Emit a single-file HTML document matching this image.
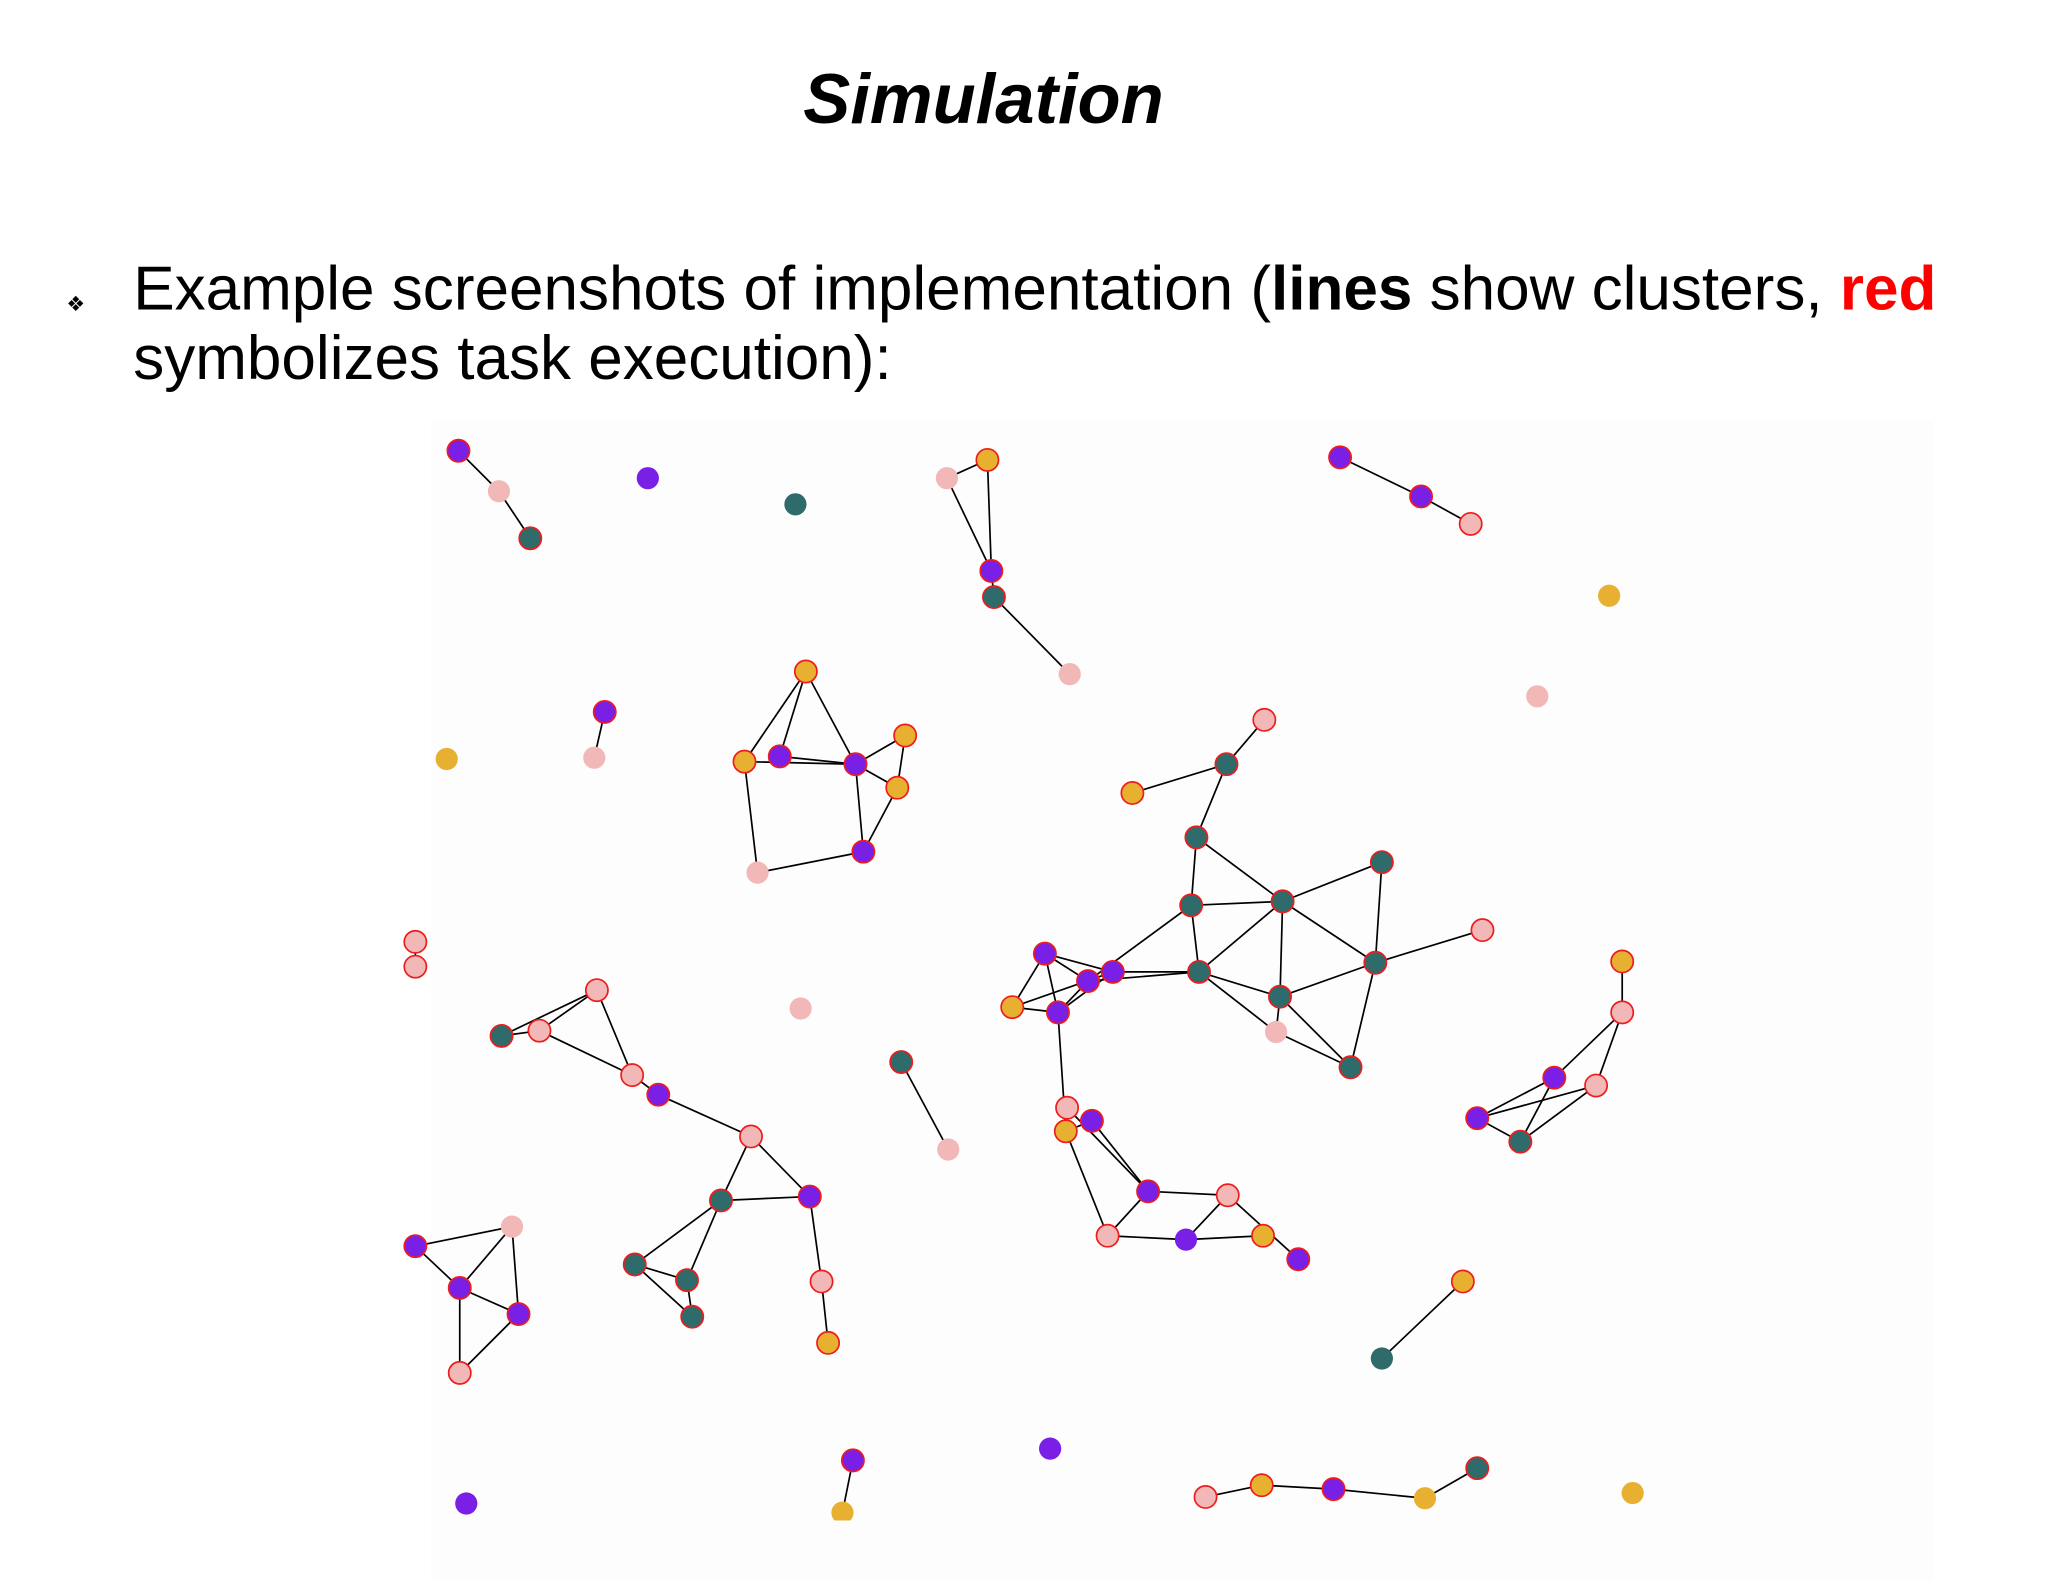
<!DOCTYPE html>
<html><head><meta charset="utf-8"><style>
html,body{margin:0;padding:0;background:#fff;}
svg{display:block;}
</style></head><body>
<svg width="2048" height="1582" viewBox="0 0 1568 1211" xmlns="http://www.w3.org/2000/svg">
<rect x="0" y="0" width="1568" height="1211" fill="#fff"/>
<rect x="330" y="322" width="1150" height="889" fill="#fdfdfd"/>
<text x="753" y="94" text-anchor="middle" font-family="Liberation Sans, sans-serif" font-size="54" font-weight="bold" font-style="italic" fill="#000">Simulation</text>
<text x="58" y="238" text-anchor="middle" font-family="DejaVu Sans, sans-serif" font-size="16" fill="#000">❖</text>
<text x="102" y="237" font-family="Liberation Sans, sans-serif" font-size="47.5" fill="#000">Example screenshots of implementation (<tspan font-weight="bold">lines</tspan> show clusters, <tspan font-weight="bold" fill="#ff0000">red</tspan></text>
<text x="102" y="290" font-family="Liberation Sans, sans-serif" font-size="47.5" fill="#000">symbolizes task execution):</text>

<g stroke="#000" stroke-width="1.3">
<line x1="351" y1="345" x2="382" y2="376"/><line x1="382" y1="376" x2="406" y2="412"/>
<line x1="725" y1="366" x2="756" y2="352"/><line x1="756" y1="352" x2="759" y2="437"/><line x1="725" y1="366" x2="759" y2="437"/><line x1="759" y1="437" x2="761" y2="457"/><line x1="761" y1="457" x2="819" y2="516"/>
<line x1="1026" y1="350" x2="1088" y2="380"/><line x1="1088" y1="380" x2="1126" y2="401"/>
<line x1="463" y1="545" x2="455" y2="580"/>
<line x1="617" y1="514" x2="570" y2="583"/><line x1="617" y1="514" x2="655" y2="585"/><line x1="617" y1="514" x2="597" y2="579"/><line x1="570" y1="583" x2="655" y2="585"/><line x1="597" y1="579" x2="655" y2="585"/><line x1="655" y1="585" x2="693" y2="563"/><line x1="693" y1="563" x2="687" y2="603"/><line x1="655" y1="585" x2="661" y2="652"/><line x1="687" y1="603" x2="661" y2="652"/><line x1="570" y1="583" x2="580" y2="668"/><line x1="580" y1="668" x2="661" y2="652"/><line x1="655" y1="585" x2="687" y2="603"/>
<line x1="968" y1="551" x2="939" y2="585"/><line x1="939" y1="585" x2="867" y2="607"/><line x1="939" y1="585" x2="916" y2="641"/><line x1="916" y1="641" x2="912" y2="693"/><line x1="916" y1="641" x2="982" y2="690"/><line x1="912" y1="693" x2="982" y2="690"/><line x1="912" y1="693" x2="918" y2="744"/><line x1="982" y1="690" x2="1058" y2="660"/><line x1="982" y1="690" x2="1053" y2="737"/><line x1="982" y1="690" x2="918" y2="744"/><line x1="982" y1="690" x2="980" y2="763"/><line x1="1058" y1="660" x2="1053" y2="737"/><line x1="1135" y1="712" x2="1053" y2="737"/><line x1="1053" y1="737" x2="980" y2="763"/><line x1="1053" y1="737" x2="1034" y2="817"/><line x1="918" y1="744" x2="980" y2="763"/><line x1="918" y1="744" x2="977" y2="790"/><line x1="980" y1="763" x2="977" y2="790"/><line x1="977" y1="790" x2="1034" y2="817"/><line x1="980" y1="763" x2="1034" y2="817"/>
<line x1="912" y1="693" x2="833" y2="751"/>
<line x1="800" y1="730" x2="852" y2="744"/><line x1="800" y1="730" x2="833" y2="751"/><line x1="800" y1="730" x2="775" y2="771"/><line x1="800" y1="730" x2="810" y2="775"/><line x1="775" y1="771" x2="852" y2="744"/><line x1="775" y1="771" x2="810" y2="775"/><line x1="810" y1="775" x2="833" y2="751"/><line x1="810" y1="775" x2="852" y2="744"/><line x1="852" y1="744" x2="918" y2="744"/><line x1="833" y1="751" x2="918" y2="744"/><line x1="810" y1="775" x2="816" y2="866"/>
<line x1="817" y1="848" x2="879" y2="912"/><line x1="816" y1="866" x2="836" y2="858"/><line x1="836" y1="858" x2="879" y2="912"/><line x1="816" y1="866" x2="848" y2="946"/><line x1="879" y1="912" x2="940" y2="915"/><line x1="879" y1="912" x2="848" y2="946"/><line x1="848" y1="946" x2="908" y2="949"/><line x1="908" y1="949" x2="967" y2="946"/><line x1="940" y1="915" x2="908" y2="949"/><line x1="940" y1="915" x2="994" y2="964"/>
<line x1="690" y1="813" x2="726" y2="880"/>
<line x1="318" y1="721" x2="318" y2="740"/>
<line x1="384" y1="793" x2="457" y2="758"/><line x1="384" y1="793" x2="413" y2="789"/><line x1="413" y1="789" x2="457" y2="758"/><line x1="413" y1="789" x2="484" y2="823"/><line x1="457" y1="758" x2="484" y2="823"/><line x1="484" y1="823" x2="504" y2="838"/><line x1="504" y1="838" x2="575" y2="870"/><line x1="575" y1="870" x2="552" y2="919"/><line x1="575" y1="870" x2="620" y2="916"/><line x1="552" y1="919" x2="620" y2="916"/><line x1="552" y1="919" x2="486" y2="968"/><line x1="552" y1="919" x2="526" y2="980"/><line x1="486" y1="968" x2="526" y2="980"/><line x1="486" y1="968" x2="530" y2="1008"/><line x1="526" y1="980" x2="530" y2="1008"/><line x1="620" y1="916" x2="629" y2="981"/><line x1="629" y1="981" x2="634" y2="1028"/>
<line x1="318" y1="954" x2="392" y2="939"/><line x1="318" y1="954" x2="352" y2="986"/><line x1="392" y1="939" x2="352" y2="986"/><line x1="392" y1="939" x2="397" y2="1006"/><line x1="352" y1="986" x2="397" y2="1006"/><line x1="352" y1="986" x2="352" y2="1051"/><line x1="397" y1="1006" x2="352" y2="1051"/>
<line x1="1242" y1="736" x2="1242" y2="775"/><line x1="1242" y1="775" x2="1190" y2="825"/><line x1="1242" y1="775" x2="1222" y2="831"/><line x1="1190" y1="825" x2="1131" y2="856"/><line x1="1190" y1="825" x2="1164" y2="874"/><line x1="1222" y1="831" x2="1131" y2="856"/><line x1="1222" y1="831" x2="1164" y2="874"/><line x1="1131" y1="856" x2="1164" y2="874"/>
<line x1="1120" y1="981" x2="1058" y2="1040"/>
<line x1="653" y1="1118" x2="645" y2="1158"/>
<line x1="923" y1="1146" x2="966" y2="1137"/><line x1="966" y1="1137" x2="1021" y2="1140"/><line x1="1021" y1="1140" x2="1091" y2="1147"/><line x1="1091" y1="1147" x2="1131" y2="1124"/>
</g>

<g stroke="#ee1c1c" stroke-width="1.3">
<circle cx="351" cy="345" r="8.5" fill="#7a1fe6"/>
<circle cx="406" cy="412" r="8.5" fill="#2f6b6b"/>
<circle cx="756" cy="352" r="8.5" fill="#e8b030"/>
<circle cx="759" cy="437" r="8.5" fill="#7a1fe6"/>
<circle cx="761" cy="457" r="8.5" fill="#2f6b6b"/>
<circle cx="1026" cy="350" r="8.5" fill="#7a1fe6"/>
<circle cx="1088" cy="380" r="8.5" fill="#7a1fe6"/>
<circle cx="1126" cy="401" r="8.5" fill="#f2b8b8"/>
<circle cx="463" cy="545" r="8.5" fill="#7a1fe6"/>
<circle cx="617" cy="514" r="8.5" fill="#e8b030"/>
<circle cx="570" cy="583" r="8.5" fill="#e8b030"/>
<circle cx="597" cy="579" r="8.5" fill="#7a1fe6"/>
<circle cx="655" cy="585" r="8.5" fill="#7a1fe6"/>
<circle cx="693" cy="563" r="8.5" fill="#e8b030"/>
<circle cx="687" cy="603" r="8.5" fill="#e8b030"/>
<circle cx="661" cy="652" r="8.5" fill="#7a1fe6"/>
<circle cx="968" cy="551" r="8.5" fill="#f2b8b8"/>
<circle cx="939" cy="585" r="8.5" fill="#2f6b6b"/>
<circle cx="867" cy="607" r="8.5" fill="#e8b030"/>
<circle cx="916" cy="641" r="8.5" fill="#2f6b6b"/>
<circle cx="912" cy="693" r="8.5" fill="#2f6b6b"/>
<circle cx="982" cy="690" r="8.5" fill="#2f6b6b"/>
<circle cx="1058" cy="660" r="8.5" fill="#2f6b6b"/>
<circle cx="1135" cy="712" r="8.5" fill="#f2b8b8"/>
<circle cx="1053" cy="737" r="8.5" fill="#2f6b6b"/>
<circle cx="918" cy="744" r="8.5" fill="#2f6b6b"/>
<circle cx="980" cy="763" r="8.5" fill="#2f6b6b"/>
<circle cx="1034" cy="817" r="8.5" fill="#2f6b6b"/>
<circle cx="800" cy="730" r="8.5" fill="#7a1fe6"/>
<circle cx="833" cy="751" r="8.5" fill="#7a1fe6"/>
<circle cx="852" cy="744" r="8.5" fill="#7a1fe6"/>
<circle cx="775" cy="771" r="8.5" fill="#e8b030"/>
<circle cx="810" cy="775" r="8.5" fill="#7a1fe6"/>
<circle cx="817" cy="848" r="8.5" fill="#f2b8b8"/>
<circle cx="836" cy="858" r="8.5" fill="#7a1fe6"/>
<circle cx="816" cy="866" r="8.5" fill="#e8b030"/>
<circle cx="879" cy="912" r="8.5" fill="#7a1fe6"/>
<circle cx="940" cy="915" r="8.5" fill="#f2b8b8"/>
<circle cx="848" cy="946" r="8.5" fill="#f2b8b8"/>
<circle cx="967" cy="946" r="8.5" fill="#e8b030"/>
<circle cx="994" cy="964" r="8.5" fill="#7a1fe6"/>
<circle cx="690" cy="813" r="8.5" fill="#2f6b6b"/>
<circle cx="318" cy="721" r="8.5" fill="#f2b8b8"/>
<circle cx="318" cy="740" r="8.5" fill="#f2b8b8"/>
<circle cx="384" cy="793" r="8.5" fill="#2f6b6b"/>
<circle cx="413" cy="789" r="8.5" fill="#f2b8b8"/>
<circle cx="457" cy="758" r="8.5" fill="#f2b8b8"/>
<circle cx="484" cy="823" r="8.5" fill="#f2b8b8"/>
<circle cx="504" cy="838" r="8.5" fill="#7a1fe6"/>
<circle cx="575" cy="870" r="8.5" fill="#f2b8b8"/>
<circle cx="552" cy="919" r="8.5" fill="#2f6b6b"/>
<circle cx="620" cy="916" r="8.5" fill="#7a1fe6"/>
<circle cx="486" cy="968" r="8.5" fill="#2f6b6b"/>
<circle cx="526" cy="980" r="8.5" fill="#2f6b6b"/>
<circle cx="530" cy="1008" r="8.5" fill="#2f6b6b"/>
<circle cx="629" cy="981" r="8.5" fill="#f2b8b8"/>
<circle cx="634" cy="1028" r="8.5" fill="#e8b030"/>
<circle cx="318" cy="954" r="8.5" fill="#7a1fe6"/>
<circle cx="352" cy="986" r="8.5" fill="#7a1fe6"/>
<circle cx="397" cy="1006" r="8.5" fill="#7a1fe6"/>
<circle cx="352" cy="1051" r="8.5" fill="#f2b8b8"/>
<circle cx="1242" cy="736" r="8.5" fill="#e8b030"/>
<circle cx="1242" cy="775" r="8.5" fill="#f2b8b8"/>
<circle cx="1190" cy="825" r="8.5" fill="#7a1fe6"/>
<circle cx="1222" cy="831" r="8.5" fill="#f2b8b8"/>
<circle cx="1131" cy="856" r="8.5" fill="#7a1fe6"/>
<circle cx="1164" cy="874" r="8.5" fill="#2f6b6b"/>
<circle cx="1120" cy="981" r="8.5" fill="#e8b030"/>
<circle cx="653" cy="1118" r="8.5" fill="#7a1fe6"/>
<circle cx="923" cy="1146" r="8.5" fill="#f2b8b8"/>
<circle cx="966" cy="1137" r="8.5" fill="#e8b030"/>
<circle cx="1021" cy="1140" r="8.5" fill="#7a1fe6"/>
<circle cx="1131" cy="1124" r="8.5" fill="#2f6b6b"/>
</g>
<g stroke="none">
<circle cx="382" cy="376" r="8.5" fill="#f2b8b8"/>
<circle cx="496" cy="366" r="8.5" fill="#7a1fe6"/>
<circle cx="609" cy="386" r="8.5" fill="#2f6b6b"/>
<circle cx="725" cy="366" r="8.5" fill="#f2b8b8"/>
<circle cx="819" cy="516" r="8.5" fill="#f2b8b8"/>
<circle cx="1232" cy="456" r="8.5" fill="#e8b030"/>
<circle cx="1177" cy="533" r="8.5" fill="#f2b8b8"/>
<circle cx="455" cy="580" r="8.5" fill="#f2b8b8"/>
<circle cx="342" cy="581" r="8.5" fill="#e8b030"/>
<circle cx="580" cy="668" r="8.5" fill="#f2b8b8"/>
<circle cx="977" cy="790" r="8.5" fill="#f2b8b8"/>
<circle cx="908" cy="949" r="8.5" fill="#7a1fe6"/>
<circle cx="726" cy="880" r="8.5" fill="#f2b8b8"/>
<circle cx="613" cy="772" r="8.5" fill="#f2b8b8"/>
<circle cx="392" cy="939" r="8.5" fill="#f2b8b8"/>
<circle cx="1058" cy="1040" r="8.5" fill="#2f6b6b"/>
<circle cx="804" cy="1109" r="8.5" fill="#7a1fe6"/>
<circle cx="357" cy="1151" r="8.5" fill="#7a1fe6"/>
<circle cx="645" cy="1158" r="8.5" fill="#e8b030"/>
<circle cx="1091" cy="1147" r="8.5" fill="#e8b030"/>
<circle cx="1250" cy="1143" r="8.5" fill="#e8b030"/>
</g>
<rect x="600" y="1164" width="100" height="10" fill="#fdfdfd"/>
</svg>
</body></html>
